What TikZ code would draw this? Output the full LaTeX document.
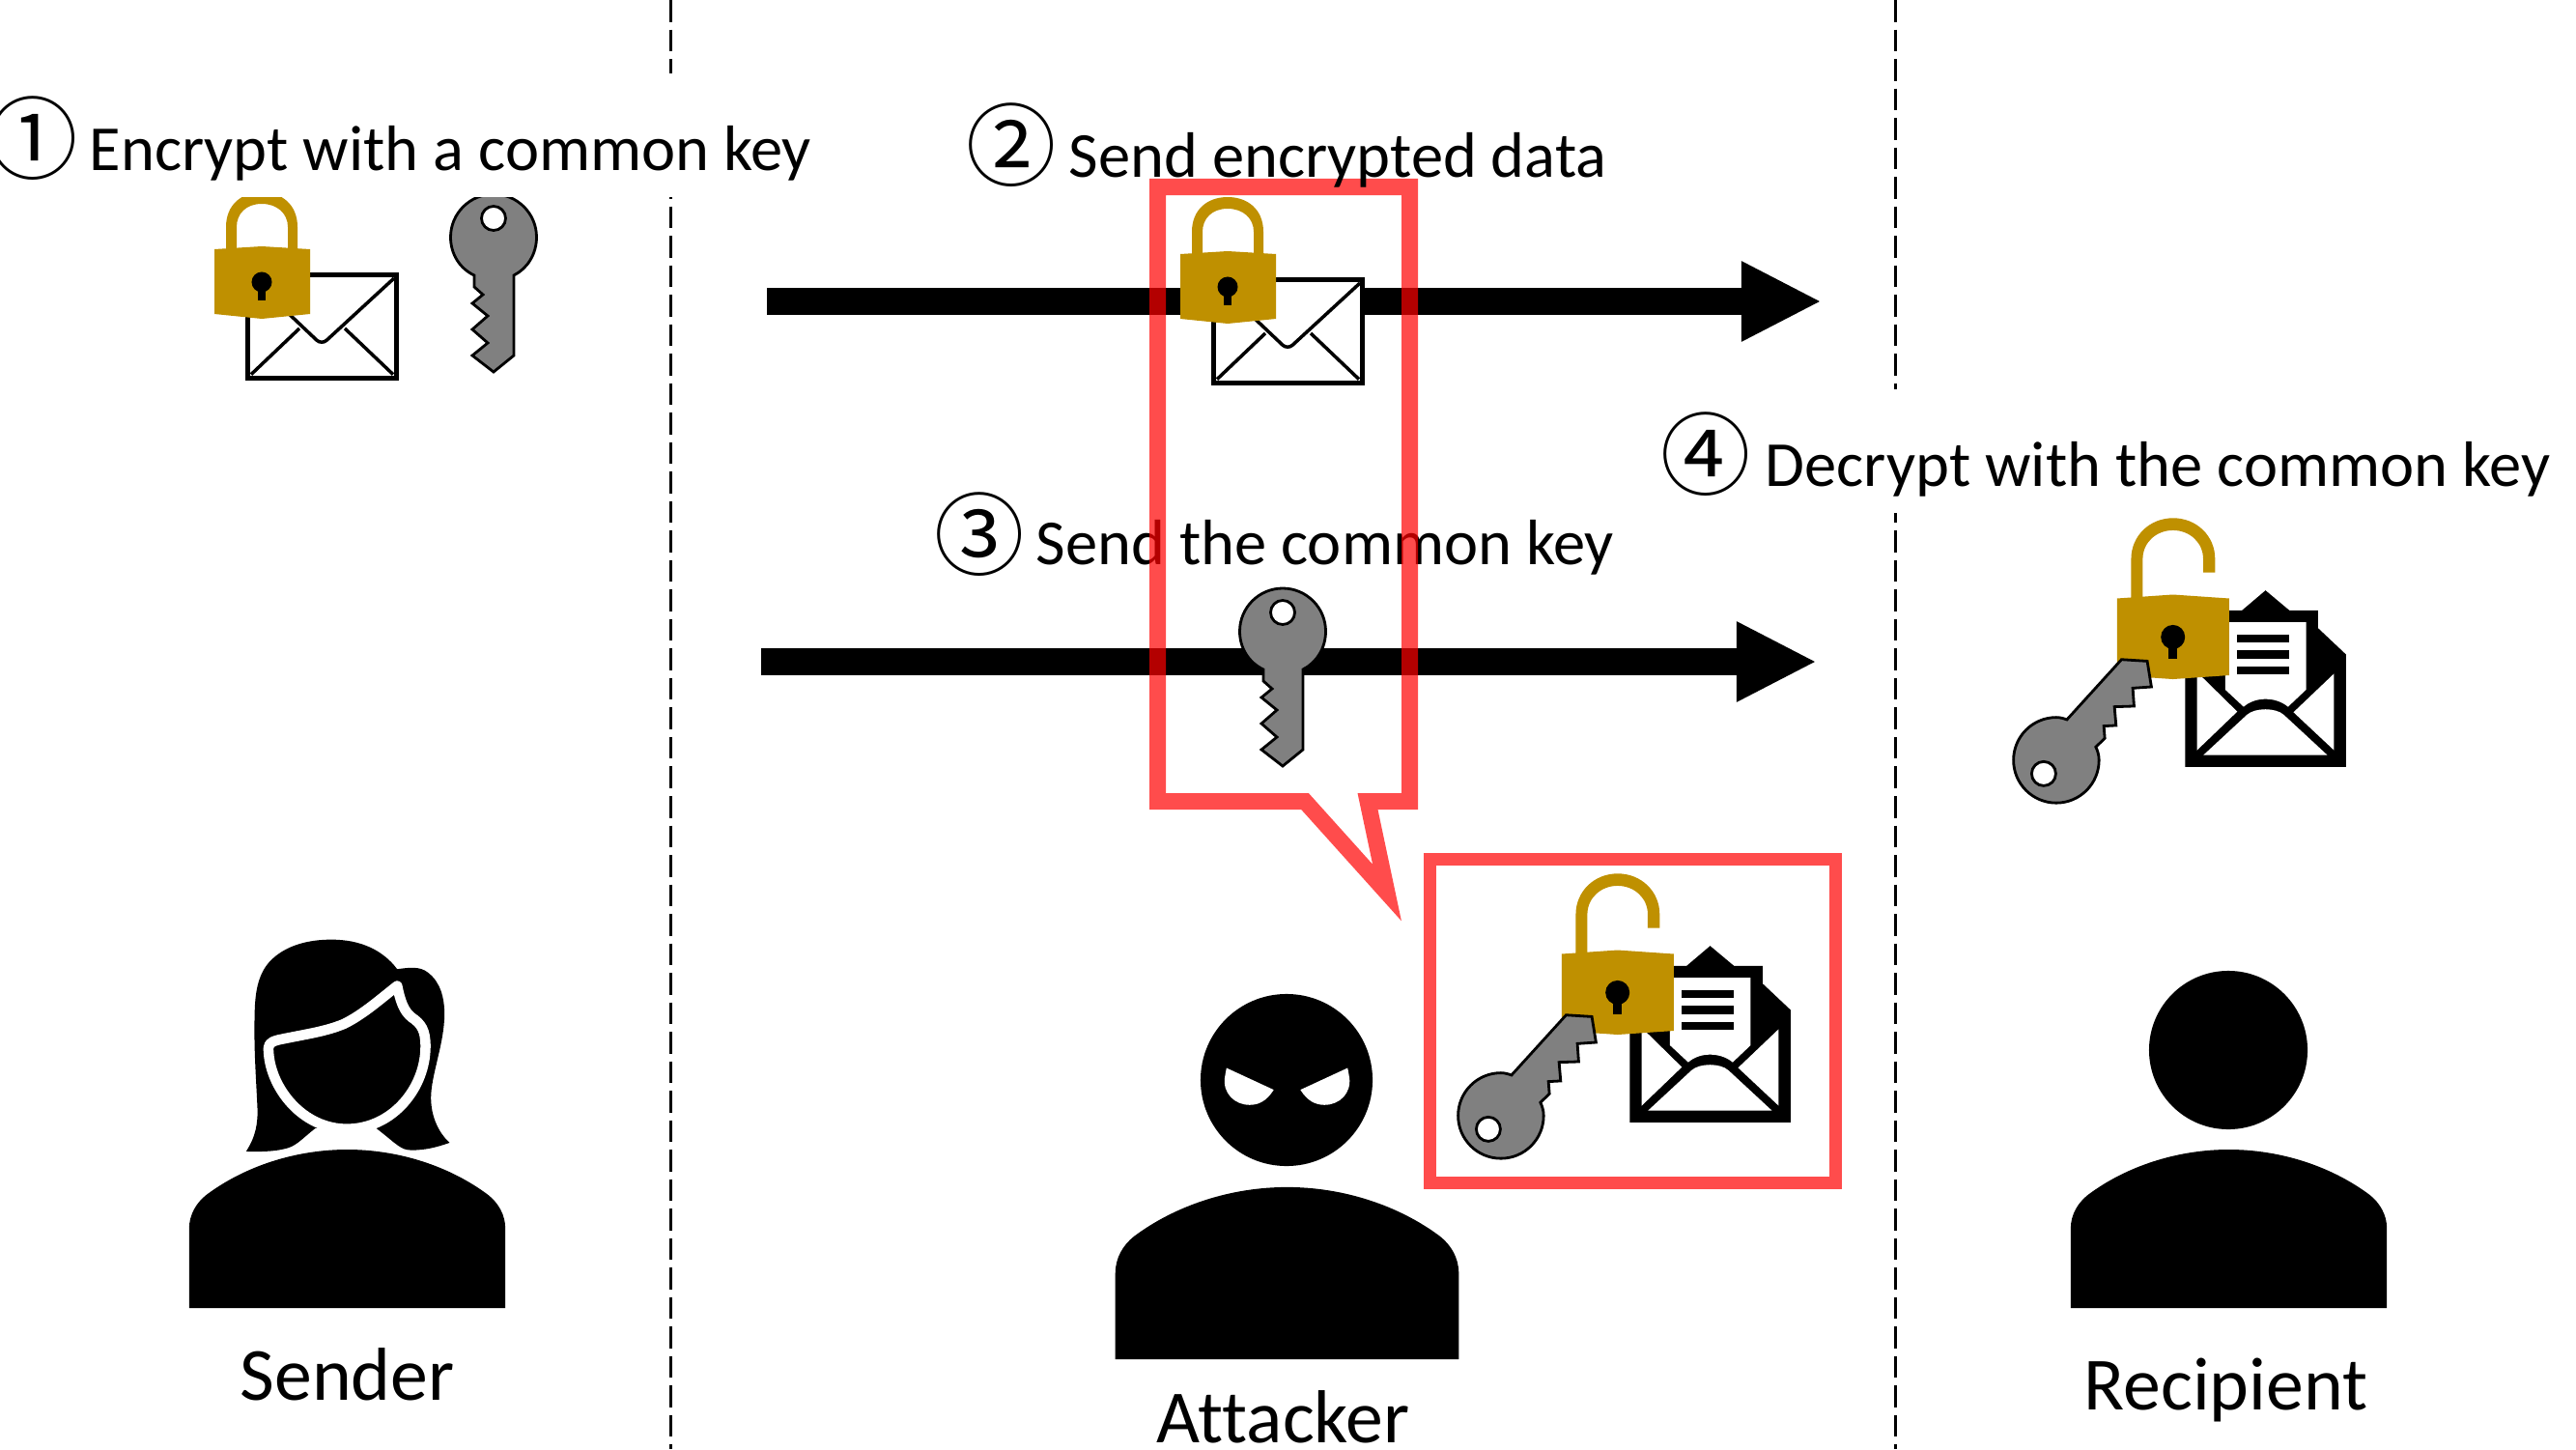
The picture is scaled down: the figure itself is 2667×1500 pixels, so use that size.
\documentclass[tikz,border=0pt]{standalone}
\usepackage{fontspec}
\usetikzlibrary{arrows.meta}
\setmainfont{Carlito}
\newfontfamily\cjk{Noto Sans CJK JP}
\definecolor{lockgold}{HTML}{BF9000}
\definecolor{keygrey}{HTML}{808080}
\tikzset{
  divider/.style={line width=0.03cm,dash pattern=on 0.225cm off 0.08cm},
  bigarrow/.style={line width=0.28cm,-{Triangle[length=0.83cm,width=0.77cm]}},
  keyshape/.style={fill=keygrey,draw=black,line width=0.028cm,line join=miter},
  keyhole/.style={fill=white,draw=black,line width=0.028cm},
  caption/.style={anchor=base west,inner sep=0pt,font=\fontsize{18.9pt}{20pt}\selectfont},
  personname/.style={anchor=base west,inner sep=0pt,font=\fontsize{22.1pt}{24pt}\selectfont},
  stepnum/.style={inner sep=0pt,font=\cjk\fontsize{26.5pt}{30pt}\selectfont},
  redmark/.style={draw=red,draw opacity=0.7,miter limit=30,line join=miter},
  lockmail/.pic={
    % envelope
    \draw[fill=white,line width=0.05cm] (1256.5,289.5) rectangle (1410.5,396.5);
    \draw[line width=0.035cm,rounded corners=0.07cm] (1258,291) -- (1333,362) -- (1408,293);
    \draw[line width=0.035cm] (1260,392.6) -- (1310,345) (1407,392.6) -- (1357,345);
    % padlock
    \fill[lockgold] (1234,263) -- (1234,240) .. controls (1234,217) and (1250,204) .. (1271,204)
      .. controls (1292,204) and (1308,217) .. (1308,240) -- (1308,263) -- (1298,263) -- (1298,240)
      .. controls (1298,226) and (1287,216) .. (1271,216) .. controls (1255,216) and (1245,226) .. (1245,240)
      -- (1245,263) -- cycle;
    \fill[lockgold] (1222,263) -- (1271,260) -- (1321,263) -- (1321,330) -- (1271,335) -- (1222,330) -- cycle;
    \fill[black] (1271,297) circle[radius=0.105cm];
    \fill[black] (1267,300) rectangle (1275,316);
  },
  uprightkey/.pic={
    \draw[keyshape] (1308,693) -- (1308,705) -- (1317,713) -- (1306,722) -- (1322,735) -- (1306,749)
      -- (1322,763) -- (1306,776) -- (1328,793) -- (1349,776) -- (1349,693)
      .. controls (1363,686) and (1372.5,671) .. (1372.5,653.5)
      .. controls (1372.5,629) and (1352.6,609) .. (1328,609)
      .. controls (1303.4,609) and (1283.5,629) .. (1283.5,653.5)
      .. controls (1283.5,671) and (1293,686) .. (1308,693) -- cycle;
    \draw[keyhole] (1328,634) circle[radius=0.125cm];
  },
  openset/.pic={
    \begin{scope}[shift={(1480,880)},x=0.0033333cm,y=-0.0033333cm]
      % open envelope
      \fill[black] (623,847) -- (1123,847) -- (1123,497) -- (1036,415) -- (1036,360) -- (947,360)
        -- (873,298) -- (800,360) -- (700,360) -- (623,560) -- cycle;
      \fill[white] (660,567) -- (675,567) -- (785,675) -- (660,795) -- cycle;
      \fill[white] (1086,557) -- (960,677) -- (1086,795) -- cycle;
      \fill[white] (680,810) -- (815,685) .. controls (840,662) and (905,662) .. (930,685) -- (1065,810) -- cycle;
      \fill[white] (748,397) -- (999,397) -- (999,607) -- (943,660)
        .. controls (905,628) and (840,628) .. (805,660) -- (748,607) -- cycle;
      \fill[black] (785,435) rectangle (947,460);
      \fill[black] (785,485) rectangle (947,510);
      \fill[black] (785,535) rectangle (947,560);
      % open padlock
      \fill[lockgold] (455,330) -- (455,200) .. controls (455,128) and (513,73) .. (585.5,73)
        .. controls (658,73) and (716,128) .. (716,200) -- (716,242) -- (679,242) -- (679,200)
        .. controls (679,149) and (637,111) .. (585,111) .. controls (533,111) and (491,149) .. (491,200)
        -- (491,330) -- cycle;
      \fill[lockgold] (411,323) -- (585,311) -- (760,323) -- (760,562) -- (585,574) -- (411,562) -- cycle;
      \fill[black] (585,443) circle[radius=0.125cm];
      \fill[black] (572,450) rectangle (598,510);
      % key
      \draw[keyshape] (255,700) -- (425,513) -- (505,518) -- (518,598) -- (460,602) -- (464,658) -- (403,660)
        -- (408,718) -- (370,720) -- (373,758) -- (345,785)
        .. controls (351,797) and (355,811) .. (355,826)
        .. controls (355,899.5) and (295.5,959) .. (222,959)
        .. controls (148.5,959) and (89,899.5) .. (89,826)
        .. controls (89,752.5) and (148.5,693) .. (222,693)
        .. controls (233,693) and (245,696) .. (255,700) -- cycle;
      \draw[keyhole] (183,868) circle[radius=0.125cm];
    \end{scope}
  },
  torso/.pic={
    \fill[black] (-163.7,0) -- (-163.7,-82) .. controls (-163.7,-97) and (-156,-109) .. (-146,-117)
      .. controls (-106,-147) and (-53,-164) .. (0,-164)
      .. controls (53,-164) and (106,-147) .. (146,-117)
      .. controls (156,-109) and (163.7,-97) .. (163.7,-82) -- (163.7,0) -- cycle;
  }
}
\begin{document}
\begin{tikzpicture}[x=0.01cm,y=-0.01cm]
\useasboundingbox (0,0) rectangle (2667,1500);
\fill[white] (0,0) rectangle (2667,1500);

% dividers
\coordinate (d1t) at (694,0);   \coordinate (d1b) at (694,1500);
\coordinate (d2t) at (1962,0);  \coordinate (d2b) at (1962,1500);
\draw[divider] (d1t) -- (d1b);
\draw[divider] (d2t) -- (d2b);

% arrows
\coordinate (a1s) at (794,312);  \coordinate (a1e) at (1886,312);
\coordinate (a2s) at (788,685);  \coordinate (a2e) at (1881,685);
\draw[bigarrow] (a1s) -- (a1e);
\draw[bigarrow] (a2s) -- (a2e);

% icons
\pic at (-1000,-5) {lockmail};
\pic at (-817,-408) {uprightkey};
\pic at (0,0) {lockmail};
\pic at (0,0) {uprightkey};
\pic at (0,0) {openset};
\pic at (575,-368) {openset};

% sender
\pic at (359.5,1354) {torso};
\begin{scope}[shift={(150,950)},x=0.0033333cm,y=-0.0033333cm]
  \fill[black] (315,727) .. controls (345,680) and (352,640) .. (350,590)
    .. controls (345,480) and (338,400) .. (342,280)
    .. controls (345,210) and (360,160) .. (400,125)
    .. controls (445,85) and (510,68) .. (580,68)
    .. controls (670,68) and (740,100) .. (785,160)
    .. controls (820,155) and (855,150) .. (880,170)
    .. controls (920,200) and (932,250) .. (932,300)
    .. controls (932,390) and (890,490) .. (890,560)
    .. controls (890,620) and (915,670) .. (948,700)
    .. controls (905,715) and (870,723) .. (830,723)
    .. controls (795,723) and (785,705) .. (720,655)
    -- (530,655) .. controls (480,695) and (470,712) .. (430,720)
    .. controls (395,728) and (350,728) .. (315,727) -- cycle;
  \draw[fill=black,draw=white,line width=0.105cm,line join=round]
    (385,420) .. controls (383,395) and (385,388) .. (415,380)
    .. controls (500,362) and (560,355) .. (620,330)
    .. controls (680,300) and (730,255) .. (785,212)
    .. controls (795,260) and (805,290) .. (830,310)
    .. controls (860,330) and (873,350) .. (873,400)
    .. controls (873,530) and (770,657) .. (628,657)
    .. controls (490,657) and (392,530) .. (385,420) -- cycle;
\end{scope}

% attacker
\pic[scale=1.086] at (1332.5,1407) {torso};
\fill[black] (1332,1118) circle[radius=0.89cm];
\begin{scope}[shift={(1140,1000)},x=0.0033333cm,y=-0.0033333cm]
  \fill[white] (390,317) -- (537,385) .. controls (515,420) and (490,432) .. (462,432)
    .. controls (415,432) and (377,395) .. (385,345) -- cycle;
  \fill[white] (767,317) -- (620,385) .. controls (642,420) and (667,432) .. (695,432)
    .. controls (742,432) and (780,395) .. (772,345) -- cycle;
\end{scope}

% recipient
\pic at (2307.5,1354) {torso};
\fill[black] (2307,1087) circle[radius=0.82cm];

% white label backings
\fill[white] (0,76) rectangle (860,204);
\fill[white] (1730,403) rectangle (2667,531);

% labels under the callout
\node[stepnum] (n1) at (34,143) {①};
\node[caption] (t1) at (92,176) {Encrypt with a common key};
\node[stepnum] (n3) at (1014,553) {③};
\node[caption] (t3) at (1072,584) {Send the common key};
\node[stepnum] (n4) at (1766,470) {④};
\node[caption] (t4) at (1827,503) {Decrypt with the common key};

% callout
\draw[redmark,line width=0.17cm] (1198.5,193.5) -- (1459.5,193.5) -- (1459.5,829.5) -- (1416,829.5)
  -- (1436,924) -- (1351,829.5) -- (1198.5,829.5) -- cycle;

% labels over the callout
\node[stepnum] (n2) at (1047,150) {②};
\node[caption] (t2) at (1106,183) {Send encrypted data};

% loot frame
\draw[redmark,line width=0.13cm] (1480.5,889.5) rectangle (1900.5,1224.5);

% names
\node[personname] (sender) at (248,1449) {Sender};
\node[personname] (attacker) at (1197,1493) {\addfontfeature{Ligatures=NoCommon}Attacker};
\node[personname] (recipient) at (2157,1459) {Recipient};
\end{tikzpicture}
\end{document}
